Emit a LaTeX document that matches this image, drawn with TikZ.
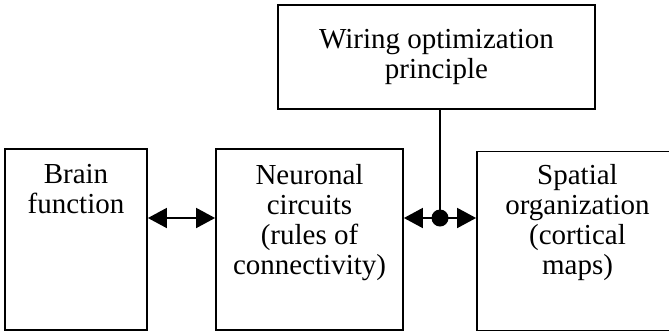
\documentclass[tikz,border=0pt]{standalone}
\usepackage{fontspec}
\setmainfont{Liberation Serif}
\usetikzlibrary{arrows.meta,positioning}
\tikzset{
  box/.style={draw,line width=1.8pt,minimum height=181pt,inner sep=0pt},
  lbl/.style={align=center,inner sep=0pt,font=\fontsize{29}{30}\selectfont},
  link/.style={line width=1.8pt,{Triangle[length=19pt,width=20pt]}-{Triangle[length=19pt,width=20pt]}},
}
\begin{document}
\begin{tikzpicture}[x=1pt,y=-1pt]
  \useasboundingbox (0,0) rectangle (669,333);
  \node[box,minimum width=142pt] (brain) at (76,239.5) {};
  \node[box,minimum width=187pt] (circuits) at (309.5,239.5) {};
  \node[box,minimum width=201pt,minimum height=179pt] (spatial) at (577.5,241) {};
  \node[box,lbl,minimum width=317pt,minimum height=104pt] (wiring) at (436.5,57) {Wiring optimization\\principle};
  \node[lbl,below=16pt of brain.north] (brain-txt) {Brain\\function};
  \node[lbl,below=16pt of circuits.north] (circuits-txt) {Neuronal\\circuits\\(rules of\\connectivity)};
  \node[lbl,below=14pt of spatial.north] (spatial-txt) {Spatial\\organization\\(cortical\\maps)};
  \coordinate (hub) at (440,218);
  \draw[link] (brain.east |- hub) -- (circuits.west |- hub);
  \draw[link] (circuits.east |- hub) -- (spatial.west |- hub);
  \draw[line width=1.8pt] (wiring.south -| hub) -- (hub);
  \fill (hub) circle (8.5pt);
\end{tikzpicture}
\end{document}
